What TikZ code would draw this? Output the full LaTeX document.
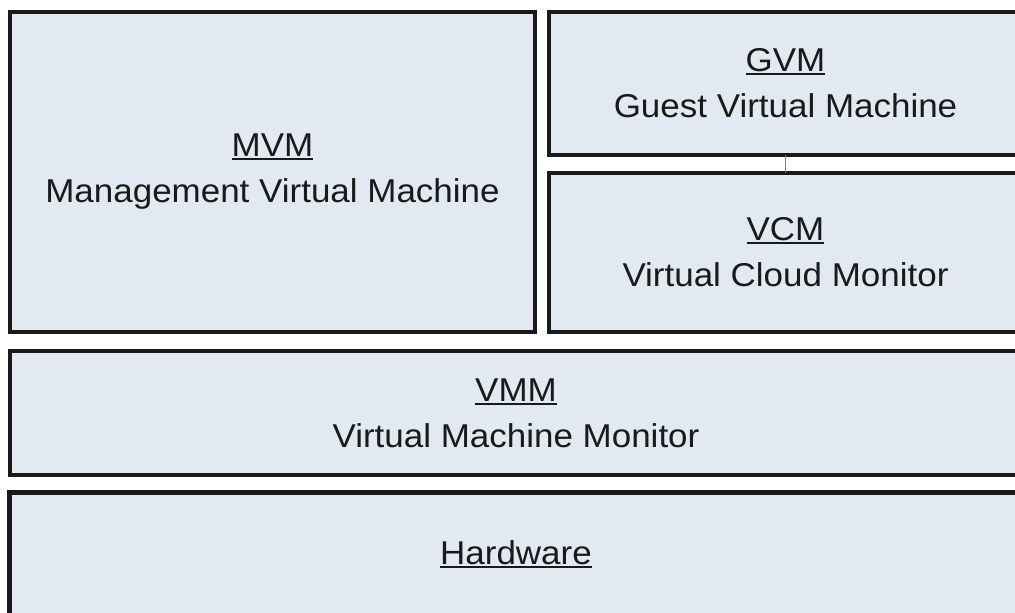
\documentclass[tikz,border=0pt]{standalone}
\usepackage{fontspec}
\setmainfont{Liberation Sans}[FakeStretch=1.06]
\definecolor{boxfill}{HTML}{E3E9F0}
\definecolor{edge}{HTML}{1A1A1A}
\definecolor{link}{HTML}{808080}
\newcommand\ulword[1]{\setbox0\hbox{#1}\rlap{\rule[-3.5pt]{\wd0}{2pt}}\box0}
\begin{document}
\begin{tikzpicture}[x=1pt,y=-1pt,
  layer/.style={draw=edge, line width=4pt, fill=boxfill, rectangle, inner sep=0pt, outer sep=0pt,
    align=center, font=\fontsize{33}{46}\selectfont, text=edge},
  lbl/.style={align=center, font=\fontsize{33}{46}\selectfont, text=edge, inner sep=0pt},
  linkline/.style={draw=link, line width=1pt}]
\useasboundingbox (0,0) rectangle (1015,613);
\fill[white] (0,0) rectangle (1015,613);
\clip (0,0) rectangle (1015,613);
\node[layer, minimum width=525pt, minimum height=320pt] (mvm) at (272.5,172) {\ulword{MVM}\\Management Virtual Machine};
\node[layer, minimum width=473pt, minimum height=142.5pt] (gvm) at (785.5,83.25) {\ulword{GVM}\\Guest Virtual Machine};
\node[layer, minimum width=473pt, minimum height=159pt] (vcm) at (785.5,252.5) {\ulword{VCM}\\Virtual Cloud Monitor};
\node[layer, minimum width=1012pt, minimum height=124pt] (vmm) at (516,413) {\ulword{VMM}\\Virtual Machine Monitor};
\node[layer, line width=5pt, minimum width=1012.5pt, minimum height=150pt] (hw) at (515.75,567.5) {};
\node[lbl] (hwlabel) at (516,554) {\ulword{Hardware}};
\draw[linkline] (gvm.south) -- (vcm.north);
\end{tikzpicture}
\end{document}
